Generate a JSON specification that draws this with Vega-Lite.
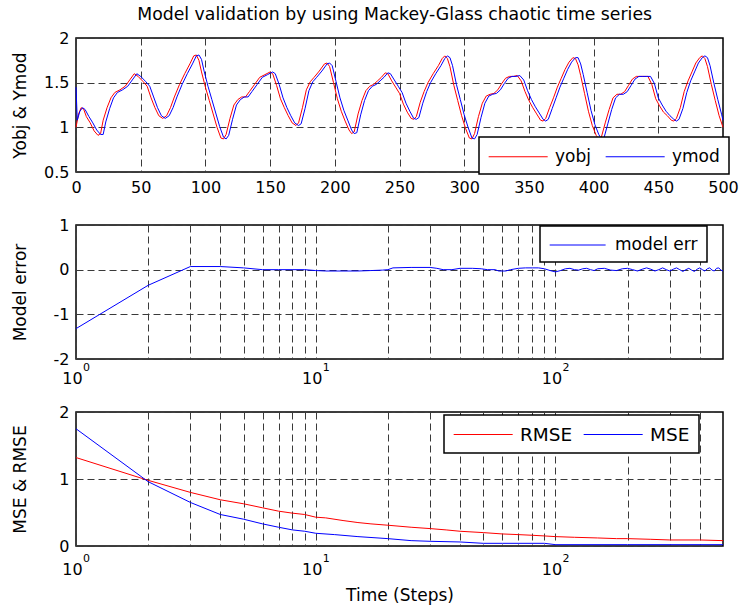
{
  "$schema": "https://vega.github.io/schema/vega-lite/v6.json",
  "background": "white",
  "padding": {"left": 10, "top": 5, "right": 14, "bottom": 4},
  "title": {"text": "Model validation by using Mackey-Glass chaotic time series", "font": "DejaVu Sans", "fontSize": 17.3, "fontWeight": "normal", "color": "black", "offset": 6, "anchor": "middle", "dx": 20},
  "config": {
    "font": "DejaVu Sans",
    "view": {"stroke": "black", "strokeWidth": 1.5},
    "axis": {"labelFont": "DejaVu Sans", "labelFontSize": 16, "labelColor": "black", "titleFont": "DejaVu Sans", "titleFontSize": 17, "titleFontWeight": "normal", "titleColor": "black", "domain": false, "ticks": false, "gridColor": "#3a3a3a", "gridDash": [7, 4], "gridOpacity": 1, "gridWidth": 1, "labelFlush": false, "labelOverlap": false},
    "legend": {"labelFont": "DejaVu Sans", "labelFontSize": 17, "labelColor": "black", "symbolType": "M-1,0H5", "symbolStrokeWidth": 1, "symbolSize": 387, "fillColor": "white", "strokeColor": "black", "strokeWidth": 1.5, "padding": 9, "labelOffset": 46, "columnPadding": 12, "cornerRadius": 0, "title": null}
  },
  "datasets": {
    "top": [
      {"t":0,"v":1.00,"s":"yobj"},{"t":2,"v":1.15,"s":"yobj"},{"t":4,"v":1.22,"s":"yobj"},{"t":6,"v":1.20,"s":"yobj"},{"t":8,"v":1.12,"s":"yobj"},{"t":11,"v":1.05,"s":"yobj"},{"t":14,"v":0.96,"s":"yobj"},{"t":17,"v":0.91,"s":"yobj"},{"t":19,"v":0.93,"s":"yobj"},{"t":21,"v":1.08,"s":"yobj"},{"t":24,"v":1.22,"s":"yobj"},{"t":27,"v":1.33,"s":"yobj"},{"t":30,"v":1.39,"s":"yobj"},{"t":34,"v":1.42,"s":"yobj"},{"t":38,"v":1.46,"s":"yobj"},{"t":42,"v":1.54,"s":"yobj"},{"t":45,"v":1.60,"s":"yobj"},{"t":48,"v":1.57,"s":"yobj"},{"t":52,"v":1.51,"s":"yobj"},{"t":55,"v":1.46,"s":"yobj"},{"t":58,"v":1.33,"s":"yobj"},{"t":61,"v":1.22,"s":"yobj"},{"t":64,"v":1.13,"s":"yobj"},{"t":67,"v":1.10,"s":"yobj"},{"t":70,"v":1.13,"s":"yobj"},{"t":73,"v":1.22,"s":"yobj"},{"t":76,"v":1.34,"s":"yobj"},{"t":80,"v":1.48,"s":"yobj"},{"t":84,"v":1.60,"s":"yobj"},{"t":88,"v":1.71,"s":"yobj"},{"t":91,"v":1.80,"s":"yobj"},{"t":93,"v":1.81,"s":"yobj"},{"t":95,"v":1.75,"s":"yobj"},{"t":97,"v":1.62,"s":"yobj"},{"t":100,"v":1.45,"s":"yobj"},{"t":103,"v":1.30,"s":"yobj"},{"t":106,"v":1.15,"s":"yobj"},{"t":109,"v":1.00,"s":"yobj"},{"t":112,"v":0.88,"s":"yobj"},{"t":114,"v":0.87,"s":"yobj"},{"t":116,"v":0.92,"s":"yobj"},{"t":119,"v":1.10,"s":"yobj"},{"t":122,"v":1.25,"s":"yobj"},{"t":125,"v":1.31,"s":"yobj"},{"t":128,"v":1.34,"s":"yobj"},{"t":131,"v":1.34,"s":"yobj"},{"t":134,"v":1.40,"s":"yobj"},{"t":138,"v":1.48,"s":"yobj"},{"t":142,"v":1.56,"s":"yobj"},{"t":146,"v":1.59,"s":"yobj"},{"t":150,"v":1.62,"s":"yobj"},{"t":152,"v":1.60,"s":"yobj"},{"t":155,"v":1.47,"s":"yobj"},{"t":158,"v":1.32,"s":"yobj"},{"t":161,"v":1.22,"s":"yobj"},{"t":164,"v":1.13,"s":"yobj"},{"t":167,"v":1.05,"s":"yobj"},{"t":170,"v":1.02,"s":"yobj"},{"t":172,"v":1.05,"s":"yobj"},{"t":175,"v":1.22,"s":"yobj"},{"t":178,"v":1.42,"s":"yobj"},{"t":181,"v":1.51,"s":"yobj"},{"t":184,"v":1.56,"s":"yobj"},{"t":188,"v":1.63,"s":"yobj"},{"t":192,"v":1.71,"s":"yobj"},{"t":194,"v":1.72,"s":"yobj"},{"t":196,"v":1.68,"s":"yobj"},{"t":199,"v":1.50,"s":"yobj"},{"t":202,"v":1.32,"s":"yobj"},{"t":205,"v":1.18,"s":"yobj"},{"t":208,"v":1.07,"s":"yobj"},{"t":211,"v":0.97,"s":"yobj"},{"t":213,"v":0.93,"s":"yobj"},{"t":215,"v":0.95,"s":"yobj"},{"t":218,"v":1.15,"s":"yobj"},{"t":221,"v":1.30,"s":"yobj"},{"t":224,"v":1.41,"s":"yobj"},{"t":227,"v":1.46,"s":"yobj"},{"t":230,"v":1.48,"s":"yobj"},{"t":233,"v":1.52,"s":"yobj"},{"t":236,"v":1.56,"s":"yobj"},{"t":239,"v":1.61,"s":"yobj"},{"t":241,"v":1.60,"s":"yobj"},{"t":244,"v":1.52,"s":"yobj"},{"t":247,"v":1.45,"s":"yobj"},{"t":250,"v":1.38,"s":"yobj"},{"t":253,"v":1.26,"s":"yobj"},{"t":256,"v":1.17,"s":"yobj"},{"t":259,"v":1.10,"s":"yobj"},{"t":261,"v":1.09,"s":"yobj"},{"t":263,"v":1.12,"s":"yobj"},{"t":266,"v":1.28,"s":"yobj"},{"t":269,"v":1.40,"s":"yobj"},{"t":272,"v":1.50,"s":"yobj"},{"t":276,"v":1.60,"s":"yobj"},{"t":280,"v":1.69,"s":"yobj"},{"t":283,"v":1.77,"s":"yobj"},{"t":285,"v":1.80,"s":"yobj"},{"t":287,"v":1.77,"s":"yobj"},{"t":289,"v":1.68,"s":"yobj"},{"t":292,"v":1.47,"s":"yobj"},{"t":295,"v":1.30,"s":"yobj"},{"t":298,"v":1.13,"s":"yobj"},{"t":301,"v":0.99,"s":"yobj"},{"t":304,"v":0.88,"s":"yobj"},{"t":306,"v":0.87,"s":"yobj"},{"t":308,"v":0.93,"s":"yobj"},{"t":311,"v":1.12,"s":"yobj"},{"t":314,"v":1.27,"s":"yobj"},{"t":317,"v":1.35,"s":"yobj"},{"t":320,"v":1.37,"s":"yobj"},{"t":323,"v":1.38,"s":"yobj"},{"t":326,"v":1.42,"s":"yobj"},{"t":329,"v":1.49,"s":"yobj"},{"t":332,"v":1.55,"s":"yobj"},{"t":335,"v":1.57,"s":"yobj"},{"t":338,"v":1.57,"s":"yobj"},{"t":341,"v":1.58,"s":"yobj"},{"t":344,"v":1.52,"s":"yobj"},{"t":347,"v":1.40,"s":"yobj"},{"t":350,"v":1.30,"s":"yobj"},{"t":353,"v":1.22,"s":"yobj"},{"t":356,"v":1.15,"s":"yobj"},{"t":359,"v":1.08,"s":"yobj"},{"t":361,"v":1.07,"s":"yobj"},{"t":363,"v":1.10,"s":"yobj"},{"t":366,"v":1.22,"s":"yobj"},{"t":369,"v":1.33,"s":"yobj"},{"t":372,"v":1.45,"s":"yobj"},{"t":375,"v":1.55,"s":"yobj"},{"t":378,"v":1.65,"s":"yobj"},{"t":381,"v":1.73,"s":"yobj"},{"t":384,"v":1.78,"s":"yobj"},{"t":386,"v":1.77,"s":"yobj"},{"t":388,"v":1.70,"s":"yobj"},{"t":390,"v":1.58,"s":"yobj"},{"t":393,"v":1.38,"s":"yobj"},{"t":396,"v":1.18,"s":"yobj"},{"t":399,"v":1.02,"s":"yobj"},{"t":402,"v":0.91,"s":"yobj"},{"t":404,"v":0.87,"s":"yobj"},{"t":406,"v":0.89,"s":"yobj"},{"t":409,"v":1.05,"s":"yobj"},{"t":412,"v":1.20,"s":"yobj"},{"t":415,"v":1.33,"s":"yobj"},{"t":418,"v":1.37,"s":"yobj"},{"t":421,"v":1.37,"s":"yobj"},{"t":424,"v":1.40,"s":"yobj"},{"t":427,"v":1.47,"s":"yobj"},{"t":430,"v":1.54,"s":"yobj"},{"t":433,"v":1.57,"s":"yobj"},{"t":436,"v":1.57,"s":"yobj"},{"t":439,"v":1.57,"s":"yobj"},{"t":442,"v":1.57,"s":"yobj"},{"t":445,"v":1.48,"s":"yobj"},{"t":448,"v":1.32,"s":"yobj"},{"t":451,"v":1.24,"s":"yobj"},{"t":454,"v":1.17,"s":"yobj"},{"t":457,"v":1.13,"s":"yobj"},{"t":460,"v":1.08,"s":"yobj"},{"t":462,"v":1.07,"s":"yobj"},{"t":464,"v":1.10,"s":"yobj"},{"t":467,"v":1.22,"s":"yobj"},{"t":470,"v":1.40,"s":"yobj"},{"t":473,"v":1.52,"s":"yobj"},{"t":476,"v":1.62,"s":"yobj"},{"t":479,"v":1.72,"s":"yobj"},{"t":482,"v":1.78,"s":"yobj"},{"t":484,"v":1.80,"s":"yobj"},{"t":486,"v":1.77,"s":"yobj"},{"t":488,"v":1.68,"s":"yobj"},{"t":491,"v":1.48,"s":"yobj"},{"t":494,"v":1.30,"s":"yobj"},{"t":497,"v":1.13,"s":"yobj"},{"t":500,"v":1.00,"s":"yobj"},
      {"t":0,"v":1.45,"s":"ymod"},{"t":1,"v":1.08,"s":"ymod"},{"t":3,"v":1.18,"s":"ymod"},{"t":5,"v":1.22,"s":"ymod"},{"t":7,"v":1.20,"s":"ymod"},{"t":10,"v":1.12,"s":"ymod"},{"t":13,"v":1.05,"s":"ymod"},{"t":16,"v":0.97,"s":"ymod"},{"t":19,"v":0.92,"s":"ymod"},{"t":21,"v":0.92,"s":"ymod"},{"t":23,"v":1.06,"s":"ymod"},{"t":26,"v":1.21,"s":"ymod"},{"t":29,"v":1.33,"s":"ymod"},{"t":32,"v":1.39,"s":"ymod"},{"t":36,"v":1.42,"s":"ymod"},{"t":40,"v":1.46,"s":"ymod"},{"t":44,"v":1.54,"s":"ymod"},{"t":47,"v":1.60,"s":"ymod"},{"t":50,"v":1.57,"s":"ymod"},{"t":54,"v":1.51,"s":"ymod"},{"t":57,"v":1.46,"s":"ymod"},{"t":60,"v":1.34,"s":"ymod"},{"t":63,"v":1.22,"s":"ymod"},{"t":66,"v":1.13,"s":"ymod"},{"t":69,"v":1.10,"s":"ymod"},{"t":72,"v":1.13,"s":"ymod"},{"t":75,"v":1.22,"s":"ymod"},{"t":78,"v":1.34,"s":"ymod"},{"t":82,"v":1.48,"s":"ymod"},{"t":86,"v":1.60,"s":"ymod"},{"t":90,"v":1.71,"s":"ymod"},{"t":93,"v":1.80,"s":"ymod"},{"t":95,"v":1.81,"s":"ymod"},{"t":97,"v":1.76,"s":"ymod"},{"t":99,"v":1.63,"s":"ymod"},{"t":102,"v":1.46,"s":"ymod"},{"t":105,"v":1.31,"s":"ymod"},{"t":108,"v":1.16,"s":"ymod"},{"t":111,"v":1.01,"s":"ymod"},{"t":114,"v":0.89,"s":"ymod"},{"t":116,"v":0.87,"s":"ymod"},{"t":118,"v":0.91,"s":"ymod"},{"t":121,"v":1.09,"s":"ymod"},{"t":124,"v":1.25,"s":"ymod"},{"t":127,"v":1.31,"s":"ymod"},{"t":130,"v":1.34,"s":"ymod"},{"t":133,"v":1.34,"s":"ymod"},{"t":136,"v":1.40,"s":"ymod"},{"t":140,"v":1.48,"s":"ymod"},{"t":144,"v":1.56,"s":"ymod"},{"t":148,"v":1.59,"s":"ymod"},{"t":152,"v":1.62,"s":"ymod"},{"t":154,"v":1.60,"s":"ymod"},{"t":157,"v":1.48,"s":"ymod"},{"t":160,"v":1.33,"s":"ymod"},{"t":163,"v":1.22,"s":"ymod"},{"t":166,"v":1.13,"s":"ymod"},{"t":169,"v":1.05,"s":"ymod"},{"t":172,"v":1.02,"s":"ymod"},{"t":174,"v":1.04,"s":"ymod"},{"t":177,"v":1.21,"s":"ymod"},{"t":180,"v":1.41,"s":"ymod"},{"t":183,"v":1.51,"s":"ymod"},{"t":186,"v":1.56,"s":"ymod"},{"t":190,"v":1.63,"s":"ymod"},{"t":194,"v":1.71,"s":"ymod"},{"t":196,"v":1.72,"s":"ymod"},{"t":198,"v":1.69,"s":"ymod"},{"t":201,"v":1.51,"s":"ymod"},{"t":204,"v":1.33,"s":"ymod"},{"t":207,"v":1.19,"s":"ymod"},{"t":210,"v":1.08,"s":"ymod"},{"t":213,"v":0.97,"s":"ymod"},{"t":215,"v":0.93,"s":"ymod"},{"t":217,"v":0.94,"s":"ymod"},{"t":220,"v":1.14,"s":"ymod"},{"t":223,"v":1.30,"s":"ymod"},{"t":226,"v":1.41,"s":"ymod"},{"t":229,"v":1.46,"s":"ymod"},{"t":232,"v":1.48,"s":"ymod"},{"t":235,"v":1.52,"s":"ymod"},{"t":238,"v":1.56,"s":"ymod"},{"t":241,"v":1.61,"s":"ymod"},{"t":243,"v":1.60,"s":"ymod"},{"t":246,"v":1.53,"s":"ymod"},{"t":249,"v":1.46,"s":"ymod"},{"t":252,"v":1.39,"s":"ymod"},{"t":255,"v":1.27,"s":"ymod"},{"t":258,"v":1.18,"s":"ymod"},{"t":261,"v":1.10,"s":"ymod"},{"t":263,"v":1.09,"s":"ymod"},{"t":265,"v":1.11,"s":"ymod"},{"t":268,"v":1.27,"s":"ymod"},{"t":271,"v":1.40,"s":"ymod"},{"t":274,"v":1.50,"s":"ymod"},{"t":278,"v":1.60,"s":"ymod"},{"t":282,"v":1.69,"s":"ymod"},{"t":285,"v":1.77,"s":"ymod"},{"t":287,"v":1.80,"s":"ymod"},{"t":289,"v":1.78,"s":"ymod"},{"t":291,"v":1.69,"s":"ymod"},{"t":294,"v":1.48,"s":"ymod"},{"t":297,"v":1.31,"s":"ymod"},{"t":300,"v":1.14,"s":"ymod"},{"t":303,"v":1.00,"s":"ymod"},{"t":306,"v":0.88,"s":"ymod"},{"t":308,"v":0.87,"s":"ymod"},{"t":310,"v":0.92,"s":"ymod"},{"t":313,"v":1.11,"s":"ymod"},{"t":316,"v":1.27,"s":"ymod"},{"t":319,"v":1.35,"s":"ymod"},{"t":322,"v":1.37,"s":"ymod"},{"t":325,"v":1.38,"s":"ymod"},{"t":328,"v":1.42,"s":"ymod"},{"t":331,"v":1.49,"s":"ymod"},{"t":334,"v":1.55,"s":"ymod"},{"t":337,"v":1.57,"s":"ymod"},{"t":340,"v":1.57,"s":"ymod"},{"t":343,"v":1.58,"s":"ymod"},{"t":346,"v":1.53,"s":"ymod"},{"t":349,"v":1.41,"s":"ymod"},{"t":352,"v":1.31,"s":"ymod"},{"t":355,"v":1.23,"s":"ymod"},{"t":358,"v":1.16,"s":"ymod"},{"t":361,"v":1.09,"s":"ymod"},{"t":363,"v":1.07,"s":"ymod"},{"t":365,"v":1.09,"s":"ymod"},{"t":368,"v":1.21,"s":"ymod"},{"t":371,"v":1.33,"s":"ymod"},{"t":374,"v":1.45,"s":"ymod"},{"t":377,"v":1.55,"s":"ymod"},{"t":380,"v":1.65,"s":"ymod"},{"t":383,"v":1.73,"s":"ymod"},{"t":386,"v":1.78,"s":"ymod"},{"t":388,"v":1.78,"s":"ymod"},{"t":390,"v":1.71,"s":"ymod"},{"t":392,"v":1.59,"s":"ymod"},{"t":395,"v":1.39,"s":"ymod"},{"t":398,"v":1.19,"s":"ymod"},{"t":401,"v":1.03,"s":"ymod"},{"t":404,"v":0.92,"s":"ymod"},{"t":406,"v":0.87,"s":"ymod"},{"t":408,"v":0.88,"s":"ymod"},{"t":411,"v":1.04,"s":"ymod"},{"t":414,"v":1.20,"s":"ymod"},{"t":417,"v":1.33,"s":"ymod"},{"t":420,"v":1.37,"s":"ymod"},{"t":423,"v":1.37,"s":"ymod"},{"t":426,"v":1.40,"s":"ymod"},{"t":429,"v":1.47,"s":"ymod"},{"t":432,"v":1.54,"s":"ymod"},{"t":435,"v":1.57,"s":"ymod"},{"t":438,"v":1.57,"s":"ymod"},{"t":441,"v":1.57,"s":"ymod"},{"t":444,"v":1.57,"s":"ymod"},{"t":447,"v":1.49,"s":"ymod"},{"t":450,"v":1.33,"s":"ymod"},{"t":453,"v":1.25,"s":"ymod"},{"t":456,"v":1.18,"s":"ymod"},{"t":459,"v":1.13,"s":"ymod"},{"t":462,"v":1.09,"s":"ymod"},{"t":464,"v":1.07,"s":"ymod"},{"t":466,"v":1.09,"s":"ymod"},{"t":469,"v":1.21,"s":"ymod"},{"t":472,"v":1.39,"s":"ymod"},{"t":475,"v":1.52,"s":"ymod"},{"t":478,"v":1.62,"s":"ymod"},{"t":481,"v":1.72,"s":"ymod"},{"t":484,"v":1.78,"s":"ymod"},{"t":486,"v":1.80,"s":"ymod"},{"t":488,"v":1.78,"s":"ymod"},{"t":490,"v":1.69,"s":"ymod"},{"t":493,"v":1.49,"s":"ymod"},{"t":496,"v":1.31,"s":"ymod"},{"t":499,"v":1.14,"s":"ymod"},{"t":500,"v":1.08,"s":"ymod"}
    ],
    "err": [
      {"t":1,"v":-1.32,"s":"model err"},{"t":2,"v":-0.35,"s":"model err"},{"t":3,"v":0.07,"s":"model err"},{"t":4,"v":0.07,"s":"model err"},{"t":5,"v":0.04,"s":"model err"},{"t":6,"v":0.0,"s":"model err"},{"t":7,"v":0.0,"s":"model err"},{"t":8,"v":0.0,"s":"model err"},{"t":9,"v":0.0,"s":"model err"},{"t":10,"v":-0.02,"s":"model err"},{"t":11,"v":-0.03,"s":"model err"},{"t":13,"v":-0.03,"s":"model err"},{"t":15,"v":-0.03,"s":"model err"},{"t":17,"v":-0.02,"s":"model err"},{"t":19,"v":-0.01,"s":"model err"},{"t":20,"v":0.0,"s":"model err"},{"t":21,"v":0.04,"s":"model err"},{"t":25,"v":0.05,"s":"model err"},{"t":30,"v":0.05,"s":"model err"},{"t":32,"v":0.03,"s":"model err"},{"t":34,"v":0.0,"s":"model err"},{"t":37,"v":0.0,"s":"model err"},{"t":40,"v":0.03,"s":"model err"},{"t":45,"v":0.03,"s":"model err"},{"t":49,"v":0.02,"s":"model err"},{"t":52,"v":0.0,"s":"model err"},{"t":56,"v":0.0,"s":"model err"},{"t":58,"v":-0.03,"s":"model err"},{"t":62,"v":-0.03,"s":"model err"},{"t":65,"v":0.0,"s":"model err"},{"t":70,"v":0.03,"s":"model err"},{"t":75,"v":0.04,"s":"model err"},{"t":80,"v":0.04,"s":"model err"},{"t":85,"v":0.04,"s":"model err"},{"t":90,"v":0.02,"s":"model err"},{"t":95,"v":-0.02,"s":"model err"},{"t":100,"v":-0.05,"s":"model err"},{"t":105,"v":-0.02,"s":"model err"},{"t":110,"v":0.02,"s":"model err"},{"t":115,"v":0.03,"s":"model err"},{"t":120,"v":0.0,"s":"model err"},{"t":125,"v":-0.01,"s":"model err"},{"t":130,"v":0.02,"s":"model err"},{"t":135,"v":0.03,"s":"model err"},{"t":140,"v":0.0,"s":"model err"},{"t":145,"v":-0.02,"s":"model err"},{"t":150,"v":0.02,"s":"model err"},{"t":160,"v":0.03,"s":"model err"},{"t":170,"v":-0.01,"s":"model err"},{"t":180,"v":-0.02,"s":"model err"},{"t":190,"v":0.02,"s":"model err"},{"t":200,"v":0.03,"s":"model err"},{"t":210,"v":0.0,"s":"model err"},{"t":220,"v":-0.03,"s":"model err"},{"t":230,"v":0.01,"s":"model err"},{"t":240,"v":0.04,"s":"model err"},{"t":250,"v":0.01,"s":"model err"},{"t":260,"v":-0.03,"s":"model err"},{"t":270,"v":0.0,"s":"model err"},{"t":280,"v":0.04,"s":"model err"},{"t":290,"v":0.0,"s":"model err"},{"t":300,"v":-0.03,"s":"model err"},{"t":310,"v":0.01,"s":"model err"},{"t":320,"v":0.04,"s":"model err"},{"t":330,"v":0.0,"s":"model err"},{"t":340,"v":-0.04,"s":"model err"},{"t":350,"v":0.0,"s":"model err"},{"t":360,"v":0.03,"s":"model err"},{"t":370,"v":-0.01,"s":"model err"},{"t":380,"v":-0.04,"s":"model err"},{"t":390,"v":0.01,"s":"model err"},{"t":400,"v":0.04,"s":"model err"},{"t":410,"v":0.0,"s":"model err"},{"t":420,"v":-0.03,"s":"model err"},{"t":430,"v":0.02,"s":"model err"},{"t":440,"v":0.04,"s":"model err"},{"t":450,"v":-0.01,"s":"model err"},{"t":460,"v":-0.03,"s":"model err"},{"t":470,"v":0.03,"s":"model err"},{"t":480,"v":0.04,"s":"model err"},{"t":490,"v":-0.01,"s":"model err"},{"t":500,"v":-0.03,"s":"model err"}
    ],
    "perf": [
      {"t":1,"v":1.32,"s":"RMSE"},{"t":2,"v":0.98,"s":"RMSE"},{"t":3,"v":0.80,"s":"RMSE"},{"t":4,"v":0.69,"s":"RMSE"},{"t":5,"v":0.63,"s":"RMSE"},{"t":6,"v":0.57,"s":"RMSE"},{"t":7,"v":0.52,"s":"RMSE"},{"t":8,"v":0.49,"s":"RMSE"},{"t":9,"v":0.47,"s":"RMSE"},{"t":10,"v":0.43,"s":"RMSE"},{"t":11,"v":0.42,"s":"RMSE"},{"t":13,"v":0.38,"s":"RMSE"},{"t":15,"v":0.35,"s":"RMSE"},{"t":17,"v":0.33,"s":"RMSE"},{"t":20,"v":0.31,"s":"RMSE"},{"t":25,"v":0.28,"s":"RMSE"},{"t":30,"v":0.26,"s":"RMSE"},{"t":35,"v":0.24,"s":"RMSE"},{"t":40,"v":0.22,"s":"RMSE"},{"t":50,"v":0.20,"s":"RMSE"},{"t":60,"v":0.18,"s":"RMSE"},{"t":70,"v":0.17,"s":"RMSE"},{"t":80,"v":0.16,"s":"RMSE"},{"t":90,"v":0.15,"s":"RMSE"},{"t":100,"v":0.14,"s":"RMSE"},{"t":120,"v":0.13,"s":"RMSE"},{"t":150,"v":0.12,"s":"RMSE"},{"t":180,"v":0.11,"s":"RMSE"},{"t":200,"v":0.11,"s":"RMSE"},{"t":250,"v":0.10,"s":"RMSE"},{"t":300,"v":0.09,"s":"RMSE"},{"t":400,"v":0.09,"s":"RMSE"},{"t":500,"v":0.08,"s":"RMSE"},
      {"t":1,"v":1.75,"s":"MSE"},{"t":2,"v":0.96,"s":"MSE"},{"t":3,"v":0.65,"s":"MSE"},{"t":4,"v":0.47,"s":"MSE"},{"t":5,"v":0.40,"s":"MSE"},{"t":6,"v":0.33,"s":"MSE"},{"t":7,"v":0.28,"s":"MSE"},{"t":8,"v":0.24,"s":"MSE"},{"t":9,"v":0.22,"s":"MSE"},{"t":10,"v":0.19,"s":"MSE"},{"t":12,"v":0.17,"s":"MSE"},{"t":15,"v":0.14,"s":"MSE"},{"t":20,"v":0.11,"s":"MSE"},{"t":25,"v":0.08,"s":"MSE"},{"t":30,"v":0.07,"s":"MSE"},{"t":40,"v":0.06,"s":"MSE"},{"t":50,"v":0.04,"s":"MSE"},{"t":60,"v":0.04,"s":"MSE"},{"t":90,"v":0.04,"s":"MSE"},{"t":100,"v":0.02,"s":"MSE"},{"t":200,"v":0.02,"s":"MSE"},{"t":500,"v":0.02,"s":"MSE"}
    ]
  },
  "spacing": 53,
  "bounds": "flush",
  "resolve": {"scale": {"color": "independent"}, "legend": {"color": "independent"}},
  "vconcat": [
    {
      "width": 647, "height": 134,
      "data": {"name": "top"},
      "mark": {"type": "line", "strokeWidth": 1},
      "encoding": {
        "x": {"field": "t", "type": "quantitative", "scale": {"domain": [0, 500], "nice": false, "zero": false}, "axis": {"values": [0, 50, 100, 150, 200, 250, 300, 350, 400, 450, 500], "title": null, "labelPadding": 7}},
        "y": {"field": "v", "type": "quantitative", "scale": {"domain": [0.5, 2], "nice": false, "zero": false}, "axis": {"values": [0.5, 1, 1.5, 2], "format": "~g", "title": "Yobj & Ymod", "titleX": -47, "labelPadding": 7}},
        "color": {"field": "s", "type": "nominal", "sort": null, "scale": {"domain": ["yobj", "ymod"], "range": ["#ff0000", "#0000ff"]}, "legend": {"orient": "none", "legendX": 403, "legendY": 99, "direction": "horizontal"}}
      }
    },
    {
      "width": 647, "height": 134,
      "data": {"name": "err"},
      "layer": [
        {
          "mark": {"type": "line", "strokeWidth": 1},
          "encoding": {
            "x": {"field": "t", "type": "quantitative", "scale": {"type": "log", "domain": [1, 500], "nice": false}, "axis": {"orient": "bottom", "values": [1, 2, 3, 4, 5, 6, 7, 8, 9, 10, 20, 30, 40, 50, 60, 70, 80, 90, 100, 200, 300, 400], "labelExpr": "datum.value == 1 || datum.value == 10 || datum.value == 100 ? '10' : ''", "labelOffset": -4, "labelPadding": 11, "title": null}},
            "y": {"field": "v", "type": "quantitative", "scale": {"domain": [-2, 1], "nice": false, "zero": false}, "axis": {"values": [-2, -1, 0, 1], "labelExpr": "'' + datum.value", "title": "Model error", "titleX": -47, "labelPadding": 7}},
            "color": {"field": "s", "type": "nominal", "scale": {"domain": ["model err"], "range": ["#0000ff"]}, "legend": {"orient": "none", "legendX": 464, "legendY": 1, "direction": "horizontal", "symbolSize": 348}}
          }
        },
        {
          "mark": {"type": "line", "strokeOpacity": 0},
          "encoding": {
            "x": {"field": "t", "type": "quantitative", "axis": {"orient": "bottom", "values": [1, 10, 100], "labelExpr": "datum.value == 1 ? '0' : datum.value == 10 ? '1' : '2'", "labelFontSize": 11, "labelOffset": 10, "labelPadding": 2, "grid": false, "title": null}},
            "y": {"field": "v", "type": "quantitative"}
          }
        }
      ],
      "resolve": {"axis": {"x": "independent"}}
    },
    {
      "width": 647, "height": 134,
      "data": {"name": "perf"},
      "layer": [
        {
          "mark": {"type": "line", "strokeWidth": 1},
          "encoding": {
            "x": {"field": "t", "type": "quantitative", "scale": {"type": "log", "domain": [1, 500], "nice": false}, "axis": {"orient": "bottom", "values": [1, 2, 3, 4, 5, 6, 7, 8, 9, 10, 20, 30, 40, 50, 60, 70, 80, 90, 100, 200, 300, 400], "labelExpr": "datum.value == 1 || datum.value == 10 || datum.value == 100 ? '10' : ''", "labelOffset": -4, "labelPadding": 15, "title": "Time (Steps)", "titleY": 41}},
            "y": {"field": "v", "type": "quantitative", "scale": {"domain": [0, 2], "nice": false, "zero": false}, "axis": {"values": [0, 1, 2], "format": "~g", "title": "MSE & RMSE", "titleX": -47, "labelPadding": 7}},
            "color": {"field": "s", "type": "nominal", "sort": null, "scale": {"domain": ["RMSE", "MSE"], "range": ["#ff0000", "#0000ff"]}, "legend": {"orient": "none", "legendX": 368, "legendY": 3, "direction": "horizontal", "labelFontSize": 18.5, "columnPadding": 8}}
          }
        },
        {
          "mark": {"type": "line", "strokeOpacity": 0},
          "encoding": {
            "x": {"field": "t", "type": "quantitative", "axis": {"orient": "bottom", "values": [1, 10, 100], "labelExpr": "datum.value == 1 ? '0' : datum.value == 10 ? '1' : '2'", "labelFontSize": 11, "labelOffset": 10, "labelPadding": 6, "grid": false, "title": null}},
            "y": {"field": "v", "type": "quantitative"}
          }
        }
      ],
      "resolve": {"axis": {"x": "independent"}}
    }
  ]
}
